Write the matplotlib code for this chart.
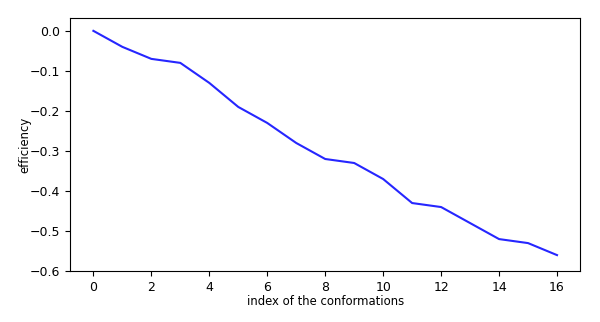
import matplotlib
matplotlib.use("Agg")
import matplotlib.pyplot as plt

# efficiency per conformation index
indices = list(range(17))
efficiency = [0.0, -0.04, -0.07, -0.08, -0.13, -0.19, -0.23, -0.28, -0.32,
              -0.33, -0.37, -0.43, -0.44, -0.48, -0.52, -0.53, -0.56]

fig, ax = plt.subplots(figsize=(6, 3.22), dpi=100)
fig.subplots_adjust(left=0.117, right=0.967, top=0.944, bottom=0.158)

ax.plot(indices, efficiency, color="blue", alpha=0.85, linewidth=1.5)

ax.set_ylim(-0.6, 0.032)
ax.set_xticks(range(0, 17, 2))
ax.set_yticks([0.0, -0.1, -0.2, -0.3, -0.4, -0.5, -0.6])
ax.tick_params(labelsize=9)
ax.set_xlabel("index of the conformations", fontsize=8.4, labelpad=1)
ax.set_ylabel("efficiency", fontsize=8.4, labelpad=-1)

plt.savefig("out.png", dpi=100)
plt.close()
